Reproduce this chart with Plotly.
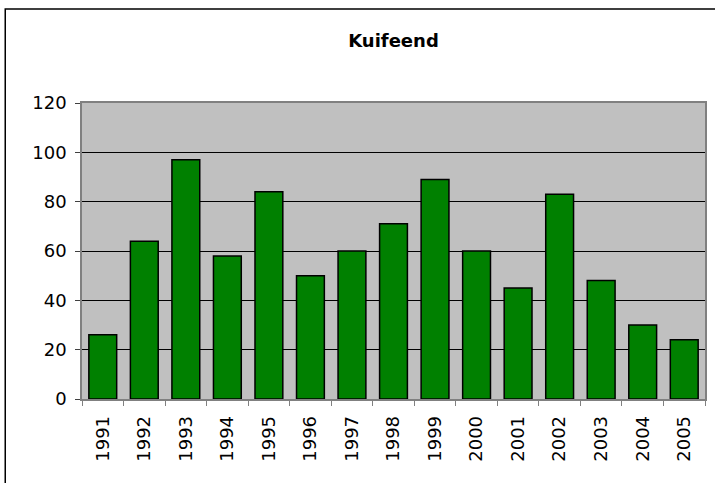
import plotly.graph_objects as go

# Kuifeend counts per year
years = ["1991", "1992", "1993", "1994", "1995", "1996", "1997", "1998",
         "1999", "2000", "2001", "2002", "2003", "2004", "2005"]
counts = [26, 64, 97, 58, 84, 50, 60, 71, 89, 60, 45, 83, 48, 30, 24]

fig = go.Figure(go.Bar(
    x=years,
    y=counts,
    marker=dict(color="#008000", line=dict(color="black", width=1.5)),
))

# outer chart frame, runs off the bottom/right edge like the screenshot
fig.add_shape(type="rect", xref="paper", yref="paper",
              x0=-0.1232, x1=1.05, y0=-0.35, y1=1.3176,
              line=dict(color="black", width=1.5), layer="below")

fig.update_layout(
    width=715, height=483,
    margin=dict(l=82, r=8, t=103, b=84),
    paper_bgcolor="white",
    plot_bgcolor="#C0C0C0",
    font=dict(family="DejaVu Sans, Verdana", size=18, color="black"),
    title=dict(text="<b>Kuifeend</b>", x=0.5, xref="paper", xanchor="center",
               y=1 - 41 / 483, yref="container", yanchor="middle",
               font=dict(size=18)),
    bargap=0.33,
    showlegend=False,
)

fig.update_xaxes(
    tickangle=-90, tickson="boundaries", ticks="outside", ticklen=5,
    tickcolor="#808080", showline=True, linecolor="#808080", linewidth=1.5,
    mirror=True, showgrid=False, ticklabelstandoff=8,
)
fig.update_yaxes(
    range=[0, 120], dtick=20, ticks="outside", ticklen=5,
    tickcolor="#404040", showline=True, linecolor="#808080", linewidth=1.5,
    mirror=True, gridcolor="black", gridwidth=1, zeroline=False,
    ticklabelstandoff=5,
)

# drop the browser's default 8px body margin so the chart sits at (0, 0)
fig.write_html("out.html", config={"displayModeBar": False},
               post_script="document.body.style.margin='0';")
